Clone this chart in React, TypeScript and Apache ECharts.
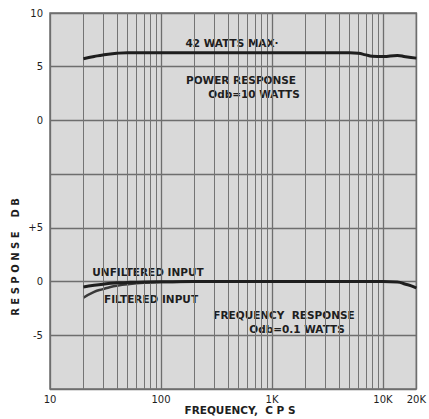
import React, { useEffect, useRef } from "react";
import * as echarts from "echarts";

// Frequencies (Hz) and response (dB)
const powerFreq = [20, 25, 30, 40, 50, 70, 100, 300, 1000, 3000, 5000, 6000, 7000, 8000, 10000, 13500, 16000, 20000];
const powerDb = [5.75, 5.95, 6.1, 6.25, 6.3, 6.3, 6.3, 6.3, 6.3, 6.3, 6.3, 6.25, 6.1, 5.98, 5.95, 6.05, 5.92, 5.8];

const unfilteredFreq = [20, 25, 30, 35, 40, 50, 70, 100, 200, 1000, 5000, 10000, 13500, 16000, 18000, 20000];
const unfilteredDb = [-0.5, -0.35, -0.25, -0.15, -0.12, -0.08, -0.04, -0.02, 0, 0, 0, 0, -0.05, -0.25, -0.4, -0.6];

const filteredFreq = [20, 25, 30, 35, 40, 50, 70, 100, 150, 200];
const filteredDb = [-1.5, -0.95, -0.7, -0.5, -0.38, -0.25, -0.12, -0.05, -0.02, 0];

const gridFreqs = [20, 30, 40, 50, 60, 70, 80, 90, 200, 300, 400, 500, 600, 700, 800, 900, 2000, 3000, 4000, 5000, 6000, 7000, 8000, 9000];

const xTickLabels: Record<number, string> = { 10: "10", 100: "100", 1000: "1K", 10000: "10K", 20000: "20K" };
const freqTickLabels: Record<number, string> = { [-5]: "-5", 0: "0", 5: "+5" };
const powerTickLabels: Record<number, string> = { 0: "0", 5: "5", 10: "10" };

const pair = (xs: number[], ys: number[]) => xs.map((x, i) => [x, ys[i]]);

const FONT = "DejaVu Sans";
const INK = "#1e1e1e";

export default function App() {
  const ref = useRef<HTMLDivElement>(null);
  useEffect(() => {
    if (!ref.current) return;
    const chart = echarts.init(ref.current, undefined, { renderer: "svg" });
    const txt = (text: string, x: number, y: number, size = 10.5) => ({
      type: "text",
      x,
      y,
      style: { text, fill: INK, font: `bold ${size}px "${FONT}"`, textAlign: "center", textVerticalAlign: "middle" },
    });
    chart.setOption({
      animation: false,
      backgroundColor: "#ffffff",
      grid: {
        left: 50,
        right: 11,
        top: 13,
        bottom: 30,
        show: true,
        backgroundColor: "#d9d9d9",
        borderColor: "#6e6e6e",
        borderWidth: 1.5,
      },
      xAxis: {
        type: "log",
        logBase: 10,
        min: 10,
        max: 20000,
        axisLine: { show: false },
        axisTick: { show: false },
        splitLine: { show: true, lineStyle: { color: "#6e6e6e", width: 1.3 } },
        axisLabel: {
          color: INK,
          fontFamily: FONT,
          fontSize: 10,
          margin: 5,
          formatter: (v: number) => xTickLabels[Math.round(v)] ?? "",
        },
      },
      yAxis: [
        {
          type: "value",
          min: -10,
          max: 25,
          interval: 5,
          position: "left",
          axisLine: { show: false },
          axisTick: { show: false },
          splitLine: { show: true, lineStyle: { color: "#6e6e6e", width: 1.3 } },
          axisLabel: {
            color: INK,
            fontFamily: FONT,
            fontSize: 10,
            margin: 7,
            formatter: (v: number) => freqTickLabels[v] ?? "",
          },
        },
        {
          type: "value",
          min: -25,
          max: 10,
          interval: 5,
          position: "left",
          axisLine: { show: false },
          axisTick: { show: false },
          splitLine: { show: false },
          axisLabel: {
            color: INK,
            fontFamily: FONT,
            fontSize: 10,
            margin: 7,
            formatter: (v: number) => powerTickLabels[v] ?? "",
          },
        },
      ],
      series: [
        {
          type: "line",
          name: "Power response",
          yAxisIndex: 1,
          data: pair(powerFreq, powerDb),
          smooth: true,
          symbol: "none",
          lineStyle: { color: INK, width: 3 },
          markLine: {
            silent: true,
            symbol: ["none", "none"],
            label: { show: false },
            lineStyle: { color: "#747474", width: 1, type: "solid" },
            data: gridFreqs.map((f) => ({ xAxis: f })),
          },
          z: 5,
        },
        {
          type: "line",
          name: "Unfiltered input",
          yAxisIndex: 0,
          data: pair(unfilteredFreq, unfilteredDb),
          smooth: true,
          symbol: "none",
          lineStyle: { color: INK, width: 3 },
          z: 5,
        },
        {
          type: "line",
          name: "Filtered input",
          yAxisIndex: 0,
          data: pair(filteredFreq, filteredDb),
          smooth: true,
          symbol: "none",
          lineStyle: { color: "#3a3a3a", width: 2.5 },
          z: 4,
        },
      ],
      graphic: [
        txt("42 WATTS MAX·", 232, 43),
        txt("POWER RESPONSE", 241, 80),
        txt("Odb=10 WATTS", 254, 94),
        txt("UNFILTERED INPUT", 148, 272),
        txt("FILTERED INPUT", 151, 299),
        txt("FREQUENCY  RESPONSE", 284, 315),
        txt("Odb=0.1 WATTS", 297, 329),
        txt("FREQUENCY,  C P S", 240, 410, 10.5),
        {
          type: "text",
          x: 15,
          y: 257,
          rotation: Math.PI / 2,
          style: {
            text: "R E S P O N S E    D B",
            fill: INK,
            font: `bold 10px "${FONT}"`,
            textAlign: "center",
            textVerticalAlign: "middle",
          },
        },
      ],
    });
    return () => chart.dispose();
  }, []);
  return <div ref={ref} style={{ width: 429, height: 419, position: "absolute", left: 0, top: 0 }} />;
}
